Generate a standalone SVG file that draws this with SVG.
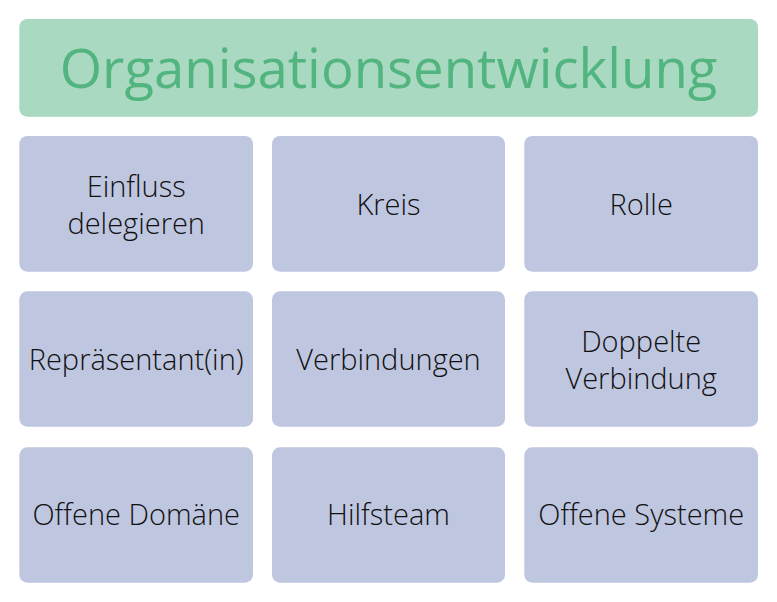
<svg xmlns="http://www.w3.org/2000/svg" width="777" height="602" viewBox="0 0 777 602">
  <style>
    .hdr { fill: #a9d9c1; }
    .hdr-t { fill: #52b47f; font-family: "Open Sans", "Liberation Sans", sans-serif; font-size: 54.5px; text-anchor: middle; }
    .box { fill: #bfc6e0; }
    .lbl { fill: #111111; font-family: "Open Sans", "Liberation Sans", sans-serif; font-weight: 300; font-size: 29px; text-anchor: middle; }
  </style>
  <rect width="777" height="602" fill="#ffffff"/>
  <g id="header">
    <rect class="hdr" x="19.3" y="19" width="738.7" height="97.7" rx="8"/>
    <text class="hdr-t" x="388.6" y="88.3">Organisationsentwicklung</text>
  </g>
  <g id="einfluss">
    <rect class="box" x="19.3" y="136" width="233.7" height="135.7" rx="8"/>
    <text class="lbl" x="136.2" y="196.7">Einfluss</text>
    <text class="lbl" x="136.2" y="234">delegieren</text>
  </g>
  <g id="kreis">
    <rect class="box" x="272" y="136" width="233" height="135.7" rx="8"/>
    <text class="lbl" x="388.5" y="214.5">Kreis</text>
  </g>
  <g id="rolle">
    <rect class="box" x="524.3" y="136" width="233.7" height="135.7" rx="8"/>
    <text class="lbl" x="641.2" y="214.5">Rolle</text>
  </g>
  <g id="repraesentant">
    <rect class="box" x="19.3" y="291.3" width="233.7" height="135.4" rx="8"/>
    <text class="lbl" x="136.2" y="369.5">Repräsentant(in)</text>
  </g>
  <g id="verbindungen">
    <rect class="box" x="272" y="291.3" width="233" height="135.4" rx="8"/>
    <text class="lbl" x="388.5" y="369.5">Verbindungen</text>
  </g>
  <g id="doppelte-verbindung">
    <rect class="box" x="524.3" y="291.3" width="233.7" height="135.4" rx="8"/>
    <text class="lbl" x="641.2" y="351.7">Doppelte</text>
    <text class="lbl" x="641.2" y="389">Verbindung</text>
  </g>
  <g id="offene-domaene">
    <rect class="box" x="19.3" y="447.3" width="233.7" height="135.4" rx="8"/>
    <text class="lbl" x="136.2" y="524.5">Offene Domäne</text>
  </g>
  <g id="hilfsteam">
    <rect class="box" x="272" y="447.3" width="233" height="135.4" rx="8"/>
    <text class="lbl" x="388.5" y="524.5">Hilfsteam</text>
  </g>
  <g id="offene-systeme">
    <rect class="box" x="524.3" y="447.3" width="233.7" height="135.4" rx="8"/>
    <text class="lbl" x="641.2" y="524.5">Offene Systeme</text>
  </g>
  <g id="connectors"/>
</svg>
